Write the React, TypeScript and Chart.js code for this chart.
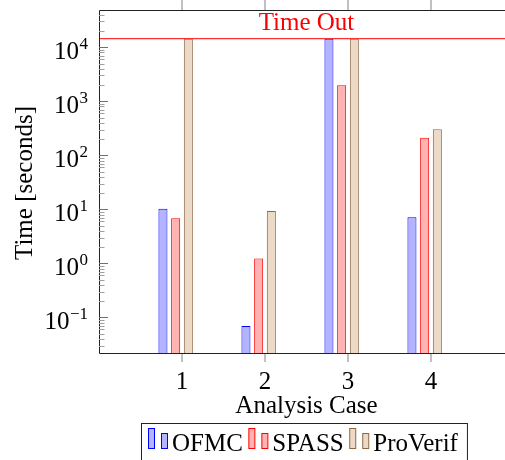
import React, { useEffect, useRef } from 'react';
import { Chart, registerables } from 'chart.js';

Chart.register(...registerables);

// ---------- data ----------
const categories = [1, 2, 3, 4];
const TIMEOUT = 14400;
const ofmc = [10.2, 0.069, TIMEOUT, 7.1];
const spass = [6.8, 1.22, 1990, 212];
const proverif = [TIMEOUT, 9.3, TIMEOUT, 302];
const seriesNames = ['OFMC', 'SPASS', 'ProVerif'];
const yTickExponents = [-1, 0, 1, 2, 3, 4];
const xTitle = 'Analysis Case';
const yTitle = 'Time [seconds]';
const timeoutLabel = 'Time Out';

// ---------- styles ----------
const FONT = '"Liberation Serif", "DejaVu Serif", serif';
const fills = ['#b3b3ff', '#ffb3b3', '#ecd9c6'];
const borders = ['#0000ff', '#ff0000', '#8c6a48'];
const X_MIN = 0;
const X_MAX = 5;
const Y_MIN = Math.pow(10, -1.68);
const Y_MAX = Math.pow(10, 4.69);

const seriesData = [ofmc, spass, proverif];

const decorPlugin = {
  id: 'decor',
  afterDatasetsDraw(chart: any) {
    const { ctx, chartArea: a, scales } = chart;
    const y = scales.y;
    const ty = y.getPixelForValue(TIMEOUT);
    ctx.save();
    ctx.strokeStyle = '#ff3030';
    ctx.lineWidth = 1.3;
    ctx.beginPath();
    ctx.moveTo(a.left, ty);
    ctx.lineTo(a.right, ty);
    ctx.stroke();
    ctx.fillStyle = '#ff0000';
    ctx.font = `25px ${FONT}`;
    ctx.textAlign = 'center';
    ctx.textBaseline = 'alphabetic';
    ctx.fillText(timeoutLabel, (a.left + a.right) / 2, ty - 8.8);
    ctx.restore();
  },
  afterDraw(chart: any) {
    const { ctx, chartArea: a, scales } = chart;
    const x = scales.x;
    const y = scales.y;
    ctx.save();

    // frame
    ctx.strokeStyle = '#222';
    ctx.lineWidth = 1;
    ctx.beginPath();
    ctx.moveTo(a.left + 0.5, a.top + 0.5);
    ctx.lineTo(a.right - 0.5, a.top + 0.5);
    ctx.lineTo(a.right - 0.5, a.bottom - 0.5);
    ctx.lineTo(a.left + 0.5, a.bottom - 0.5);
    ctx.closePath();
    ctx.stroke();

    // y ticks: minor
    ctx.strokeStyle = '#a0a0a0';
    for (let e = -2; e <= 4; e++) {
      for (let k = 2; k <= 9; k++) {
        const v = k * Math.pow(10, e);
        if (v <= Y_MIN || v >= Y_MAX) continue;
        const py = Math.round(y.getPixelForValue(v)) + 0.5;
        ctx.beginPath();
        ctx.moveTo(a.left, py);
        ctx.lineTo(a.left + 5.5, py);
        ctx.moveTo(a.right, py);
        ctx.lineTo(a.right - 5.5, py);
        ctx.stroke();
      }
    }
    // y ticks: major
    ctx.strokeStyle = '#707070';
    for (const e of yTickExponents) {
      const py = Math.round(y.getPixelForValue(Math.pow(10, e))) + 0.5;
      ctx.beginPath();
      ctx.moveTo(a.left, py);
      ctx.lineTo(a.left + 9, py);
      ctx.moveTo(a.right, py);
      ctx.lineTo(a.right - 9, py);
      ctx.stroke();
    }

    // y tick labels 10^e
    ctx.fillStyle = '#000';
    ctx.textBaseline = 'alphabetic';
    ctx.textAlign = 'right';
    const labelRight = a.left - 11;
    for (const e of yTickExponents) {
      const py = y.getPixelForValue(Math.pow(10, e));
      const expStr = e < 0 ? '\u2212' + String(-e) : String(e);
      ctx.font = `17px ${FONT}`;
      const expW = ctx.measureText(expStr).width;
      ctx.fillText(expStr, labelRight, py + 1.5);
      ctx.font = `25px ${FONT}`;
      ctx.fillText('10', labelRight - expW - 0.5, py + 11.3);
    }

    // x ticks
    ctx.strokeStyle = '#a0a0a0';
    ctx.lineWidth = 1.3;
    for (const c of categories) {
      const px = x.getPixelForValue(c);
      ctx.beginPath();
      ctx.moveTo(px, a.bottom);
      ctx.lineTo(px, a.bottom + 8);
      ctx.moveTo(px, a.top);
      ctx.lineTo(px, a.top - 10);
      ctx.stroke();
    }

    // x tick labels
    ctx.fillStyle = '#000';
    ctx.font = `25px ${FONT}`;
    ctx.textAlign = 'center';
    for (const c of categories) {
      const px = x.getPixelForValue(c);
      ctx.fillText(String(c), px, a.bottom + 35);
    }

    // x title
    ctx.fillText(xTitle, (a.left + a.right) / 2, a.bottom + 58.5);

    // y title
    ctx.save();
    ctx.translate(32, (a.top + a.bottom) / 2 + 1);
    ctx.rotate(-Math.PI / 2);
    ctx.textAlign = 'center';
    ctx.fillText(yTitle, 0, 0);
    ctx.restore();

    // legend
    ctx.font = `25px ${FONT}`;
    ctx.textAlign = 'left';
    let lx = 148;
    const baseY = 450.7;
    for (let i = 0; i < seriesNames.length; i++) {
      ctx.lineWidth = 1;
      ctx.fillStyle = fills[i];
      ctx.strokeStyle = borders[i];
      ctx.fillRect(lx + 0.5, 428.5, 6, 20);
      ctx.strokeRect(lx + 0.5, 428.5, 6, 20);
      ctx.fillRect(lx + 13.5, 433.5, 6, 15);
      ctx.strokeRect(lx + 13.5, 433.5, 6, 15);
      ctx.fillStyle = '#000';
      const tx = lx + 24;
      ctx.fillText(seriesNames[i], tx, baseY);
      const w = ctx.measureText(seriesNames[i]).width;
      lx = tx + w + 5.5;
    }
    const boxRight = lx - 5.5 + 9.5;
    ctx.strokeStyle = '#222';
    ctx.lineWidth = 1;
    ctx.strokeRect(141.5, 423.5, boxRight - 141.5, 60);

    ctx.restore();
  },
};

export default function App() {
  const canvasRef = useRef<HTMLCanvasElement | null>(null);

  useEffect(() => {
    const canvas = canvasRef.current;
    if (!canvas) return;
    const datasets: any[] = seriesNames.map((name, i) => ({
      label: name,
      data: categories.map((c, j) => ({ x: c, y: seriesData[i][j] })),
      backgroundColor: fills[i],
      borderColor: borders[i],
      borderWidth: 1,
      categoryPercentage: 0.612,
      barPercentage: 0.71,
    }));
    // empty placeholder series (the time-out plot occupies a bar slot)
    datasets.push({
      label: timeoutLabel,
      data: [],
      backgroundColor: 'rgba(0,0,0,0)',
      borderWidth: 0,
      categoryPercentage: 0.612,
      barPercentage: 0.71,
    });

    const chart = new Chart(canvas, {
      type: 'bar',
      data: { datasets },
      options: {
        animation: false,
        responsive: false,
        devicePixelRatio: 1,
        layout: { padding: { left: 99, top: 10, right: 16, bottom: 106 } },
        plugins: {
          legend: { display: false },
          tooltip: { enabled: false },
          title: { display: false },
        },
        scales: {
          x: {
            type: 'linear',
            min: X_MIN,
            max: X_MAX,
            offset: false,
            display: false,
            ticks: { stepSize: 1 },
          },
          y: {
            type: 'logarithmic',
            min: Y_MIN,
            max: Y_MAX,
            display: false,
          },
        },
      } as any,
      plugins: [decorPlugin],
    });
    return () => chart.destroy();
  }, []);

  return (
    <div
      style={{
        position: 'fixed',
        left: 0,
        top: 0,
        width: 505,
        height: 460,
        overflow: 'hidden',
        background: '#fff',
      }}
    >
      <canvas ref={canvasRef} width={530} height={460} style={{ display: 'block' }} />
    </div>
  );
}
